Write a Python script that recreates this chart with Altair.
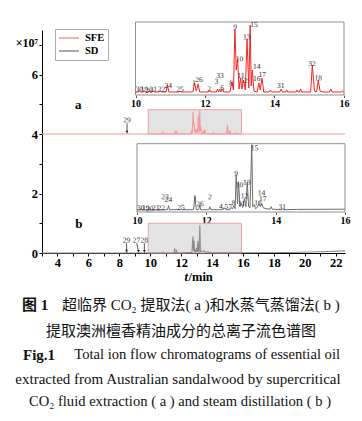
import altair as alt
import pandas as pd

SERIF = "Liberation Serif"
MIXED = "Liberation Serif, Noto Sans CJK SC"

# ---------------- data ----------------
# main panel: retention time (min), intensity (x10^7); SFE trace offset to baseline 4
sfe_main = [(3.0, 4.0), (8.44, 4.0), (8.50, 4.04), (8.56, 4.0), (10.78, 4.0), (10.82, 4.06),
            (10.86, 4.0), (11.55, 4.0), (11.60, 4.085), (11.65, 4.02), (11.70, 4.075),
            (11.75, 4.0), (12.62, 4.0), (12.67, 4.10), (12.72, 4.03), (12.77, 4.74),
            (12.81, 4.30), (12.84, 4.37), (12.89, 4.05), (12.93, 4.15), (12.97, 4.05),
            (13.01, 4.12), (13.06, 4.04), (13.11, 4.62), (13.16, 4.05), (13.20, 4.79),
            (13.24, 4.10), (13.27, 4.25), (13.32, 4.03), (13.41, 4.02), (13.45, 4.09),
            (13.49, 4.04), (13.53, 4.15), (13.58, 4.01), (14.05, 4.0), (14.09, 4.04),
            (14.13, 4.0), (14.94, 4.0), (14.99, 4.31), (15.05, 4.02), (15.12, 4.0),
            (15.16, 4.12), (15.21, 4.0), (15.48, 4.0), (15.52, 4.04), (15.56, 4.0), (22.6, 4.0)]
sd_main = [(3.0, 0.0), (8.44, 0.0), (8.48, 0.06), (8.52, 0.0), (9.20, 0.0), (9.24, 0.02),
           (9.28, 0.0), (9.58, 0.0), (9.62, 0.03), (9.66, 0.0), (10.78, 0.0), (10.82, 0.03),
           (10.86, 0.0), (11.54, 0.0), (11.58, 0.16), (11.62, 0.01), (11.68, 0.0), (11.71, 0.07),
           (11.75, 0.0), (12.70, 0.02), (12.76, 0.55), (12.80, 0.08), (12.83, 0.42), (12.87, 0.04),
           (12.91, 0.08), (12.95, 0.03), (13.00, 0.17), (13.04, 0.04), (13.08, 0.40), (13.12, 0.04),
           (13.16, 0.03), (13.21, 0.93), (13.25, 0.05), (13.42, 0.06), (13.50, 0.08), (13.56, 0.02),
           (13.77, 0.04), (13.82, 0.01), (16.0, 0.01), (19.0, 0.015), (21.0, 0.04), (22.6, 0.07)]

# zoomed regions (grey boxes): t from, t to, intensity from, to
zoom_boxes = [(9.87, 15.9, 4.0, 4.82), (9.87, 15.9, 0.0, 1.0)]

# inset a (SFE, 10-16 min), relative abundance
inset_a = [(10.0, 0), (10.08, 0), (10.11, 1.5), (10.14, 0), (10.22, 0), (10.25, 1.5), (10.28, 0),
           (10.36, 0), (10.39, 1), (10.42, 0), (10.48, 0), (10.51, 1.5), (10.54, 0), (10.68, 0),
           (10.71, 1.5), (10.74, 0), (10.88, 0), (10.92, 7), (10.96, 0), (11.24, 0), (11.28, 1),
           (11.32, 0), (11.65, 0), (11.70, 9), (11.75, 1), (11.80, 8), (11.85, 0), (12.09, 0),
           (12.13, 2), (12.17, 0), (12.33, 0), (12.36, 3), (12.39, 0), (12.42, 3), (12.46, 0),
           (12.50, 3), (12.54, 0), (12.72, 0), (12.77, 10), (12.82, 2), (12.86, 63), (12.90, 22),
           (12.94, 33), (12.98, 3), (13.02, 14), (13.06, 3), (13.11, 12), (13.16, 2), (13.21, 53),
           (13.26, 4), (13.30, 67), (13.33, 6), (13.36, 22), (13.41, 1), (13.50, 0), (13.55, 9),
           (13.59, 2), (13.64, 14), (13.69, 0), (13.85, 0), (13.88, 2), (13.92, 0), (14.15, 0),
           (14.19, 3), (14.23, 0), (14.32, 0), (14.35, 2), (14.38, 0), (14.62, 0), (14.65, 2),
           (14.68, 0), (14.72, 0), (14.75, 3), (14.78, 0), (15.04, 0), (15.09, 27), (15.15, 1),
           (15.21, 0), (15.26, 12), (15.31, 1), (15.40, 0), (15.58, 0), (15.62, 3), (15.66, 0),
           (15.92, 0), (15.95, 1), (15.98, 0), (16.0, 0)]
inset_a_labels = [("30", 10.11, 2.5), ("19", 10.25, 2.5), ("20", 10.39, 1.5), ("21", 10.51, 2.5),
                  ("22", 10.75, 2.5), ("24", 10.94, 6), ("25", 11.28, 2.5), ("1", 11.68, 8.7),
                  ("26", 11.83, 12), ("2", 12.12, 2.7), ("3", 12.33, 10.3), ("33", 12.43, 16),
                  ("6", 12.49, 3.7), ("8", 12.75, 8.7), ("9", 12.87, 64.7), ("10", 12.99, 32.7),
                  ("11", 13.03, 16), ("12", 13.12, 11.3), ("13", 13.2, 54.7), ("15", 13.41, 67),
                  ("14", 13.49, 25.3), ("16", 13.49, 13), ("17", 13.65, 17), ("31", 14.18, 6),
                  ("32", 15.08, 28), ("18", 15.26, 13.7)]

# inset b (SD, 10-16 min), relative abundance
inset_b = [(10.0, 0), (10.88, 0), (10.91, 4), (10.94, 0), (11.25, 0), (11.28, 1), (11.31, 0),
           (11.63, 0), (11.67, 13), (11.71, 0), (11.78, 0), (11.81, 5), (11.84, 0), (12.07, 0),
           (12.10, 3), (12.13, 0), (12.47, 0), (12.52, 2), (12.57, 0), (12.68, 0), (12.72, 2),
           (12.76, 1), (12.79, 4), (12.83, 1), (12.86, 35), (12.90, 6), (12.93, 28), (12.97, 3),
           (13.01, 7), (13.05, 2), (13.10, 11), (13.14, 3), (13.18, 28), (13.22, 3), (13.26, 2),
           (13.31, 65), (13.34, 3), (13.38, 5), (13.42, 1), (13.46, 2), (13.52, 6), (13.56, 3),
           (13.60, 6), (13.64, 2), (13.72, 1), (13.84, 0.5), (13.87, 3), (13.90, 0.5), (14.17, 0),
           (14.20, 1.2), (14.23, 0), (14.6, 0.3), (16.0, 0.5)]
inset_b_labels = [("30", 10.11, 1.4), ("19", 10.25, 1.4), ("20", 10.37, 0.4), ("21", 10.54, 1.4),
                  ("22", 10.70, 1.4), ("23", 10.81, 12.4), ("24", 10.91, 9.7), ("25", 11.27, 2),
                  ("1", 11.67, 11.4), ("26", 11.82, 5.4), ("2", 12.10, 12.4), ("4,5", 12.50, 3),
                  ("7", 12.69, 2.4), ("8", 12.79, 6.4), ("9", 12.86, 36), ("10", 12.96, 24.4),
                  ("11", 13.02, 6), ("12", 13.10, 13.4), ("13", 13.17, 27), ("15", 13.39, 61.4),
                  ("14", 13.59, 16.4), ("16", 13.49, 6.4), ("17", 13.63, 10.4), ("31", 14.19, 2.4)]

main_labels = [("29", 8.5, 4.46), ("29", 8.47, 0.42), ("27", 9.12, 0.42), ("28", 9.62, 0.42)]
main_arrows = [(8.5, 4.36, 8.5, 4.07), (8.47, 0.33, 8.47, 0.07),
               (9.13, 0.33, 9.24, 0.06), (9.62, 0.33, 9.62, 0.06)]
panel_letters = [("a", 5.35, 4.99), ("b", 5.39, 0.96)]

# ---------------- frames ----------------
df_lines = pd.DataFrame(
    [("SFE", t, v) for t, v in sfe_main] + [("SD", t, v) for t, v in sd_main],
    columns=["series", "t", "v"])
df_boxes = pd.DataFrame(zoom_boxes, columns=["t", "t2", "v", "v2"])
df_main_lab = pd.DataFrame(main_labels, columns=["label", "t", "v"])
df_arrows = pd.DataFrame(main_arrows, columns=["t", "v", "t2", "v2"])
df_letters = pd.DataFrame(panel_letters, columns=["label", "t", "v"])
df_ia = pd.DataFrame(inset_a, columns=["t", "h"])
df_ib = pd.DataFrame(inset_b, columns=["t", "h"])
df_ia_lab = pd.DataFrame(inset_a_labels, columns=["label", "t", "h"])
df_ib_lab = pd.DataFrame(inset_b_labels, columns=["label", "t", "h"])
one = pd.DataFrame({"k": [0]})

# ---------------- main panel ----------------
X_AXIS = alt.Axis(values=list(range(3, 23)), labelExpr="datum.value % 2 == 0 ? datum.value : ''",
                  title=None, grid=False, tickSize=3, labelPadding=0, labelFlush=False,
                  labelOverlap=False, labelFont=SERIF, labelFontWeight="bold", labelFontSize=12.5,
                  labelColor="black", domainColor="black", tickColor="black")
Y_AXIS = alt.Axis(values=list(range(0, 8)), labelExpr="datum.value % 2 == 0 ? datum.value : ''",
                  title=None, grid=False, tickSize=3, labelPadding=1.5, labelOverlap=False,
                  labelFont=SERIF, labelFontWeight="bold", labelFontSize=12.5,
                  labelColor="black", domainColor="black", tickColor="black")


def mx(f):
    return alt.X(f, type="quantitative", axis=X_AXIS,
                 scale=alt.Scale(domain=[3, 22.6], nice=False, zero=False))


def my(f):
    return alt.Y(f, type="quantitative", axis=Y_AXIS,
                 scale=alt.Scale(domain=[0, 7.5], nice=False, zero=False))


boxes = alt.Chart(df_boxes).mark_rect(fill="#e3e3e3", stroke="#f2a2a2", strokeWidth=1).encode(
    x=mx("t"), x2="t2", y=my("v"), y2="v2")

lines = alt.Chart(df_lines).mark_line(strokeWidth=1.1).encode(
    x=mx("t"), y=my("v"),
    color=alt.Color("series:N",
                    scale=alt.Scale(domain=["SFE", "SD"], range=["#f39a9a", "#8c8c8c"]),
                    legend=alt.Legend(title=None, orient="none", legendX=13, legendY=-1,
                                      symbolType="M-1,0H3", symbolSize=100, symbolStrokeWidth=1.5,
                                      labelFont=SERIF, labelFontWeight="bold", labelFontSize=10.5,
                                      labelColor="black", strokeColor="#aaaaaa", fillColor="white",
                                      padding=3, rowPadding=1, labelOffset=15)))

SMALL = dict(font=SERIF, fontSize=7.5, color="#2a2a2a", angle=0.6)

mlab = alt.Chart(df_main_lab).mark_text(**SMALL).encode(x=mx("t"), y=my("v"), text="label")
arrows = alt.Chart(df_arrows).mark_rule(color="#222", strokeWidth=0.8).encode(
    x=mx("t"), y=my("v"), x2="t2", y2="v2")
heads = alt.Chart(df_arrows).mark_point(shape="triangle-down", filled=True, size=8,
                                        color="#222", opacity=1).encode(x=mx("t2"), y=my("v2"))
letters = alt.Chart(df_letters).mark_text(font=SERIF, fontWeight="bold", fontSize=13,
                                          color="black").encode(x=mx("t"), y=my("v"), text="label")
unit = alt.Chart(one).mark_text(text="×10⁷", font=SERIF, fontWeight="bold", fontSize=12,
                                color="black").encode(x=alt.value(-15), y=alt.value(13))
tlab = alt.Chart(one).mark_text(text="t", font=SERIF, fontStyle="italic", fontWeight="bold",
                                fontSize=12.5, align="right", color="black").encode(
    x=alt.value(146), y=alt.value(247))
mlab2 = alt.Chart(one).mark_text(text="/min", font=SERIF, fontWeight="bold", fontSize=12.5,
                                 align="left", color="black").encode(
    x=alt.value(146.5), y=alt.value(247))


def cap(text, x, y, size, align="center", weight="normal", font=MIXED):
    return alt.Chart(one).mark_text(text=text, font=font, fontSize=size, align=align,
                                    baseline="middle", fontWeight=weight, color="#111").encode(
        x=alt.value(x), y=alt.value(y))


caption = [
    cap("图 1", -20, 275, 15, align="left", weight="bold"),
    cap("超临界 CO₂ 提取法( a )和水蒸气蒸馏法( b )", 20, 275, 15, align="left"),
    cap("提取澳洲檀香精油成分的总离子流色谱图", 139, 300.7, 15),
    cap("Fig.1", -19, 325, 15, align="left", weight="bold", font=SERIF),
    cap("Total ion flow chromatograms of essential oil", 298, 325, 14.6, align="right", font=SERIF),
    cap("extracted from Australian sandalwood by supercritical", 136, 349, 15, font=SERIF),
    cap("CO₂ fluid extraction ( a ) and steam distillation ( b )", 138, 371.7, 14.6, font=SERIF),
]

main = alt.layer(boxes, lines, arrows, heads, mlab, letters, unit, tlab, mlab2, *caption)

# ---------------- insets ----------------
def inset(df_line, df_lab, xdom, ydom, frame_h, offset, color):
    ax = alt.Axis(values=[10, 12, 14, 16], orient="bottom", offset=offset, domain=False,
                  grid=False, tickSize=2.5, tickColor="#555", labelPadding=0.5, labelFlush=False,
                  labelOverlap=False, title=None, labelFont=SERIF, labelFontSize=10,
                  labelFontWeight="bold", labelColor="black")
    X = lambda f: alt.X(f, type="quantitative", axis=ax,
                        scale=alt.Scale(domain=xdom, nice=False, zero=False))
    Y = lambda f: alt.Y(f, type="quantitative", axis=None,
                        scale=alt.Scale(domain=ydom, nice=False, zero=False))
    frame_df = pd.DataFrame({"t": [10.0], "t2": [16.0], "h": [frame_h[0]], "h2": [frame_h[1]]})
    frame = alt.Chart(frame_df).mark_rect(fill="white", stroke="#8f8f8f", strokeWidth=1).encode(
        x=X("t"), x2="t2", y=Y("h"), y2="h2")
    line = alt.Chart(df_line).mark_line(color=color, strokeWidth=1).encode(x=X("t"), y=Y("h"))
    lab = alt.Chart(df_lab).mark_text(**SMALL).encode(x=X("t"), y=Y("h"), text="label")
    return alt.layer(frame, line, lab)


ins_a = inset(df_ia, df_ia_lab, [7.309, 16.029], [-161, 62], (-3, 70), -158, "#ff2222")
ins_b = inset(df_ib, df_ib_lab, [7.260, 16.0], [-43.3, 179.7], (-2.3, 66), -41, "#6e6e6e")

chart = alt.layer(main, ins_a, ins_b).resolve_scale(
    x="independent", y="independent").properties(
    width=303, height=223,
    autosize=alt.AutoSizeParams(type="none"),
    padding={"left": 34, "top": 22, "right": 9, "bottom": 160},
    background="white",
).configure_view(stroke=None)

chart.save("out.html", embed_options={"renderer": "svg", "actions": False})
